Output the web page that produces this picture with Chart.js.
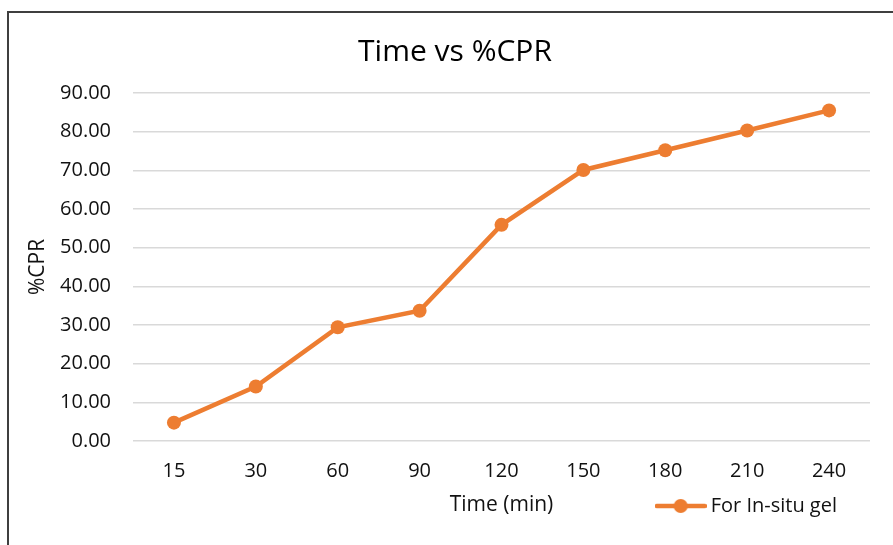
<!DOCTYPE html>
<html>
<head>
<meta charset="utf-8">
<title>Time vs %CPR</title>
<script src="https://cdn.jsdelivr.net/npm/chart.js@4.4.1/dist/chart.umd.min.js"></script>
<style>
    html, body { margin: 0; padding: 0; background: #fff; overflow: hidden; }
    #wrap { position: relative; width: 893px; height: 545px; }
    #frame {
        position: absolute; left: 7px; top: 11px; width: 900px; height: 600px;
        border: 2px solid #3f3f3f; box-sizing: border-box;
    }
    #chartBox { position: absolute; left: 0; top: 0; width: 893px; height: 545px; }
</style>
</head>
<body>
<div id="wrap">
    <div id="frame"></div>
    <div id="chartBox"><canvas id="cprChart"></canvas></div>
</div>
<script>
    // chart data
    const timeLabels = ['15', '30', '60', '90', '120', '150', '180', '210', '240'];
    const cprValues = [4.74, 14.1, 29.4, 33.7, 55.9, 70.1, 75.2, 80.3, 85.5];
    const seriesName = 'For In-situ gel';
    const yTicks = [0, 10, 20, 30, 40, 50, 60, 70, 80, 90];

    const orange = '#ED7D31';
    const textColor = '#111';
    const fontFamily = '"Open Sans", sans-serif';

    // legend marker: short line with a dot in the middle
    function makeLegendMarker() {
        const c = document.createElement('canvas');
        c.width = 52;
        c.height = 16;
        const g = c.getContext('2d');
        g.strokeStyle = orange;
        g.lineWidth = 4.5;
        g.lineCap = 'round';
        g.beginPath();
        g.moveTo(2, 8);
        g.lineTo(50, 8);
        g.stroke();
        g.fillStyle = orange;
        g.beginPath();
        g.arc(26, 8, 7, 0, Math.PI * 2);
        g.fill();
        return c;
    }
    const legendMarker = makeLegendMarker();

    // nudge the legend left so it ends under the last point like the original
    const legendShift = {
        id: 'legendShift',
        afterLayout(chart) {
            if (chart.legend) {
                chart.legend.left -= 23;
                chart.legend.right -= 23;
            }
        }
    };

    const ctx = document.getElementById('cprChart').getContext('2d');
    new Chart(ctx, {
        type: 'line',
        data: {
            labels: timeLabels,
            datasets: [{
                label: seriesName,
                data: cprValues,
                borderColor: orange,
                backgroundColor: orange,
                borderWidth: 4.5,
                pointRadius: 7,
                pointBackgroundColor: orange,
                pointBorderWidth: 0,
                tension: 0
            }]
        },
        options: {
            responsive: true,
            maintainAspectRatio: false,
            animation: false,
            layout: {
                padding: { left: 40, right: 23, top: 20, bottom: 19 }
            },
            plugins: {
                title: {
                    display: true,
                    text: 'Time vs %CPR',
                    color: '#000',
                    font: { family: fontFamily, size: 30, weight: 500 },
                    padding: { top: 14, bottom: 23 }
                },
                legend: {
                    position: 'bottom',
                    align: 'end',
                    labels: {
                        usePointStyle: true,
                        pointStyleWidth: 40,
                        color: textColor,
                        font: { family: fontFamily, size: 20, weight: 500 },
                        padding: 10,
                        generateLabels: () => [{
                            text: seriesName,
                            pointStyle: legendMarker,
                            fillStyle: orange,
                            strokeStyle: orange,
                            lineWidth: 0,
                            fontColor: textColor,
                            datasetIndex: 0
                        }]
                    }
                },
                tooltip: { enabled: false }
            },
            scales: {
                x: {
                    offset: true,
                    grid: { display: false, drawTicks: false },
                    border: { display: false },
                    afterFit: (scale) => { scale.height = 45; },
                    ticks: {
                        color: textColor,
                        font: { family: fontFamily, size: 20, weight: 500 },
                        padding: 18
                    },
                    title: {
                        display: true,
                        text: 'Time (min)',
                        color: textColor,
                        font: { family: fontFamily, size: 21, weight: 500 },
                        padding: { top: 11, bottom: -32 }
                    }
                },
                y: {
                    min: 0,
                    max: 90,
                    afterBuildTicks: (scale) => {
                        scale.ticks = yTicks.map(v => ({ value: v }));
                    },
                    afterFit: (scale) => { scale.width = 93; },
                    grid: {
                        color: '#d9d9d9',
                        lineWidth: 1.5,
                        drawTicks: false
                    },
                    border: { display: false },
                    ticks: {
                        color: textColor,
                        font: { family: fontFamily, size: 20, weight: 500 },
                        padding: 22,
                        callback: (v) => Number(v).toFixed(2)
                    },
                    title: {
                        display: true,
                        text: '%CPR',
                        color: textColor,
                        font: { family: fontFamily, size: 21, weight: 500 },
                        padding: { top: -15, bottom: 0 }
                    }
                }
            }
        },
        plugins: [legendShift]
    });
</script>
</body>
</html>
